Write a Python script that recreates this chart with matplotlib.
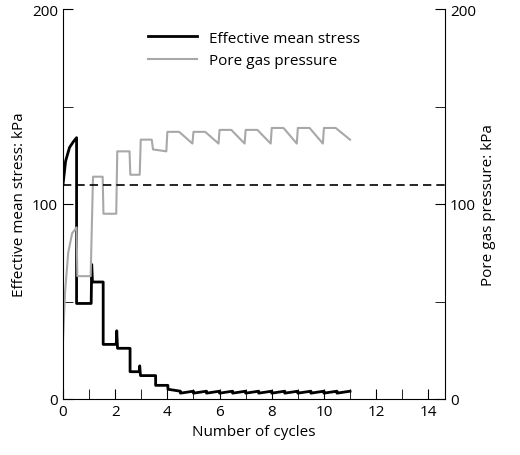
import matplotlib
matplotlib.use("Agg")
import matplotlib.pyplot as plt
from matplotlib.ticker import MultipleLocator

plt.rcParams['font.family'] = ['Open Sans', 'DejaVu Sans']

ems_x = [0, 0.1, 0.25, 0.4, 0.52, 0.52, 1.08, 1.1, 1.13, 1.54, 1.54, 2.04, 2.06, 2.09, 2.57, 2.57,
         2.92, 2.94, 2.97, 3.55, 3.55, 4.02, 4.02, 4.5, 4.5, 5.0, 5.0, 5.5, 5.5, 6.0, 6.0, 6.5, 6.5,
         7.0, 7.0, 7.5, 7.5, 8.0, 8.0, 8.5, 8.5, 9.0, 9.0, 9.5, 9.5, 10.0, 10.0, 10.5, 10.5, 11.0]
ems_y = [110, 122, 129, 132, 134, 49, 49, 69, 60, 60, 28, 28, 35, 26, 26, 14,
         14, 17, 12, 12, 7, 7, 5, 4, 3, 4, 3, 4, 3, 4, 3, 4, 3,
         4, 3, 4, 3, 4, 3, 4, 3, 4, 3, 4, 3, 4, 3, 4, 3, 4]

pgp_x = [0, 0.08, 0.2, 0.35, 0.52, 0.55, 1.06, 1.15, 1.52, 1.55, 2.04, 2.08, 2.55, 2.58, 2.94, 2.98,
         3.4, 3.45, 3.96, 4.0, 4.45, 4.96, 5.0, 5.45, 5.96, 6.0, 6.45, 6.96, 7.0, 7.45, 7.96, 8.0,
         8.45, 8.96, 9.0, 9.45, 9.96, 10.0, 10.45, 11.0]
pgp_y = [30, 55, 75, 85, 88, 63, 63, 114, 114, 95, 95, 127, 127, 115, 115, 133,
         133, 128, 127, 137, 137, 131, 137, 137, 131, 138, 138, 131, 138, 138, 131, 139,
         139, 131, 139, 139, 131, 139, 139, 133]

ref_level = 110

fig = plt.figure(figsize=(5.2, 4.56), dpi=100)
ax = fig.add_axes([63/520, 56/456, 382/520, 390/456])
ax.plot(ems_x, ems_y, color='black', lw=2, label='Effective mean stress')
ax.plot(pgp_x, pgp_y, color='#a8a8a8', lw=1.5, label='Pore gas pressure')
ax.axhline(ref_level, color='black', lw=1.2, ls=(0, (5, 3)))
ax.set_xlim(0, 14.64)
ax.set_ylim(0, 200)
ax.xaxis.set_major_locator(MultipleLocator(2))
ax.xaxis.set_minor_locator(MultipleLocator(1))
ax.yaxis.set_major_locator(MultipleLocator(100))
ax.yaxis.set_minor_locator(MultipleLocator(50))
ax.tick_params(which='both', direction='in', labelsize=11, length=7)
for s in ['top', 'right']:
    ax.spines[s].set_visible(False)
ax.set_xlabel('Number of cycles', fontsize=11)
ax.set_ylabel('Effective mean stress: kPa', fontsize=11)

ax2 = ax.twinx()
ax2.set_ylim(0, 200)
ax2.yaxis.set_major_locator(MultipleLocator(100))
ax2.yaxis.set_minor_locator(MultipleLocator(50))
ax2.tick_params(which='both', direction='in', labelsize=11, length=7)
for s in ['top', 'left', 'bottom']:
    ax2.spines[s].set_visible(False)
ax2.set_ylabel('Pore gas pressure: kPa', fontsize=11)

ax.legend(loc='upper center', bbox_to_anchor=(0.5, 0.98), frameon=False, fontsize=11,
          handlelength=3.2)
fig.savefig('out.png', dpi=100)
